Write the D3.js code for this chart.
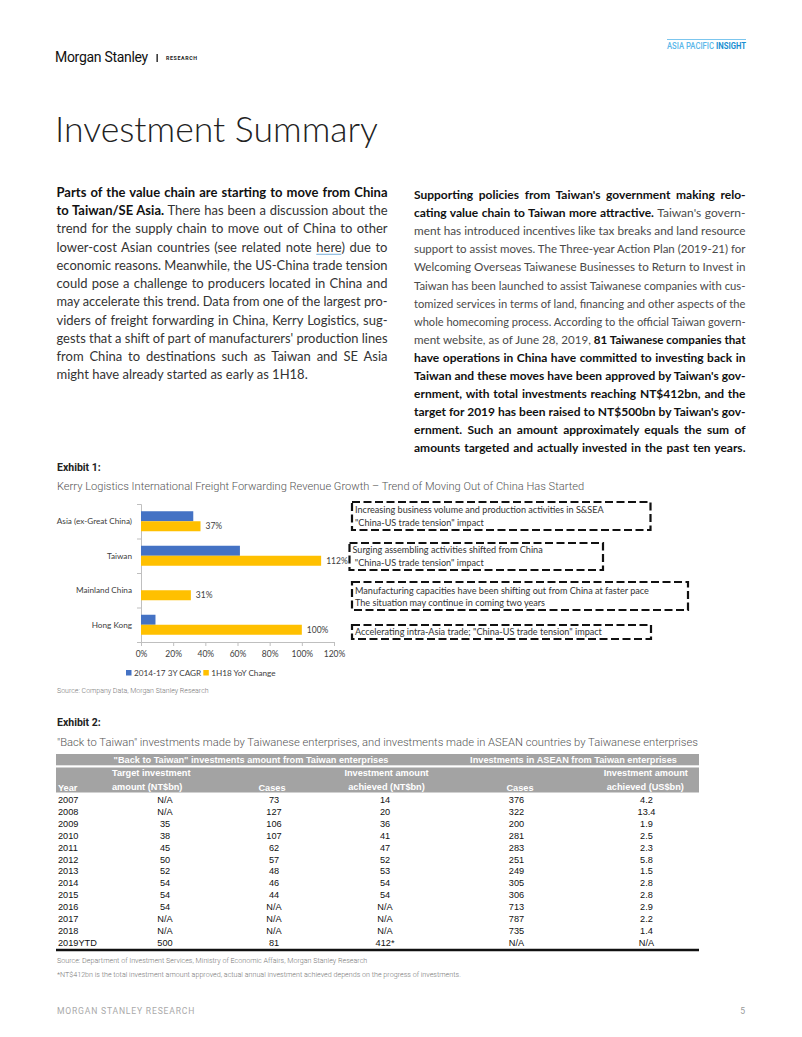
<!DOCTYPE html>
<html><head><meta charset="utf-8">
<script src="https://cdn.jsdelivr.net/npm/d3@7"></script>
<style>
html,body{margin:0;padding:0;background:#fff;}
svg{display:block;}
text{white-space:pre;}
</style></head>
<body>
<script>
// ---------- Exhibit 1 data ----------
const categories = ["Asia (ex-Great China)", "Taiwan", "Mainland China", "Hong Kong"];
const seriesNames = ["2014-17 3Y CAGR", "1H18 YoY Change"];
const cagr = [32.5, 61.5, 0, 9];
const yoy = [37, 112, 31, 100];
const yoyLabels = ["37%", "112%", "31%", "100%"];
const xTicks = [0, 20, 40, 60, 80, 100, 120];
const annotations = [
  ["Increasing business volume and production activities in S&SEA", "\"China-US trade tension\" impact"],
  ["Surging assembling activities shifted from China", " \"China-US trade tension\" impact"],
  ["Manufacturing capacities have been shifting out from China at faster pace", "The situation may continue in coming two years"],
  ["Accelerating intra-Asia trade; \"China-US trade tension\" impact"]
];

// ---------- Exhibit 2 data ----------
const years = ["2007","2008","2009","2010","2011","2012","2013","2014","2015","2016","2017","2018","2019YTD"];
const targetInv = ["N/A","N/A","35","38","45","50","52","54","54","54","N/A","N/A","500"];
const twCases = ["73","127","106","107","62","57","48","46","44","N/A","N/A","N/A","81"];
const twAchieved = ["14","20","36","41","47","52","53","54","54","N/A","N/A","N/A","412*"];
const aseanCases = ["376","322","200","281","283","251","249","305","306","713","787","735","N/A"];
const aseanAchieved = ["4.2","13.4","1.9","2.5","2.3","5.8","1.5","2.8","2.8","2.9","2.2","1.4","N/A"];

// ---------- Body text ----------
const leftLines = [
  [{t:"Parts of the value chain are starting to move from China", b:1}],
  [{t:"to Taiwan/SE Asia.", b:1}, {t:" There has been a discussion about the"}],
  [{t:"trend for the supply chain to move out of China to other"}],
  [{t:"lower-cost Asian countries (see related note "}, {t:"here", link:1}, {t:") due to"}],
  [{t:"economic reasons. Meanwhile, the US-China trade tension"}],
  [{t:"could pose a challenge to producers located in China and"}],
  [{t:"may accelerate this trend. Data from one of the largest pro-"}],
  [{t:"viders of freight forwarding in China, Kerry Logistics, sug-"}],
  [{t:"gests that a shift of part of manufacturers' production lines"}],
  [{t:"from China to destinations such as Taiwan and SE Asia"}],
  [{t:"might have already started as early as 1H18."}]
];
const rightLines = [
  [{t:"Supporting policies from Taiwan's government making relo-", b:1}],
  [{t:"cating value chain to Taiwan more attractive.", b:1}, {t:" Taiwan's govern-"}],
  [{t:"ment has introduced incentives like tax breaks and land resource"}],
  [{t:"support to assist moves. The Three-year Action Plan (2019-21) for"}],
  [{t:"Welcoming Overseas Taiwanese Businesses to Return to Invest in"}],
  [{t:"Taiwan has been launched to assist Taiwanese companies with cus-"}],
  [{t:"tomized services in terms of land, financing and other aspects of the"}],
  [{t:"whole homecoming process. According to the official Taiwan govern-"}],
  [{t:"ment website, as of June 28, 2019, "}, {t:"81 Taiwanese companies that", b:1}],
  [{t:"have operations in China have committed to investing back in", b:1}],
  [{t:"Taiwan and these moves have been approved by Taiwan's gov-", b:1}],
  [{t:"ernment, with total investments reaching NT$412bn, and the", b:1}],
  [{t:"target for 2019 has been raised to NT$500bn by Taiwan's gov-", b:1}],
  [{t:"ernment. Such an amount approximately equals the sum of", b:1}],
  [{t:"amounts targeted and actually invested in the past ten years.", b:1}]
];

const W = 802, H = 1037;
const svg = d3.select("body").append("svg").attr("width", W).attr("height", H);

const BODY = "Lato, 'Noto Sans', sans-serif";
const ROBO = "Roboto, 'Liberation Sans', sans-serif";
const ARIAL = "'Liberation Sans', Arial, sans-serif";

// ---------- Page header ----------
svg.append("text").attr("x", 55).attr("y", 62.3).attr("font-family", ROBO).attr("font-size", 14)
  .attr("letter-spacing", -0.3).attr("fill", "#111").text("Morgan Stanley");
svg.append("rect").attr("x", 156.5).attr("y", 54).attr("width", 1.3).attr("height", 8).attr("fill", "#111");
svg.append("text").attr("x", 166).attr("y", 60).attr("font-family", ROBO).attr("font-size", 5.3)
  .attr("font-weight", 700).attr("letter-spacing", 0.6).attr("fill", "#222").text("RESEARCH");

svg.append("line").attr("x1", 667).attr("x2", 746).attr("y1", 39.5).attr("y2", 39.5)
  .attr("stroke", "#7cc6ee").attr("stroke-width", 1);
const api = svg.append("text").attr("x", 667).attr("y", 48.5).attr("font-family", ROBO).attr("font-size", 8.2)
  .attr("textLength", 79).attr("lengthAdjust", "spacingAndGlyphs");
api.append("tspan").attr("fill", "#5ab7ea").attr("font-weight", 500).text("ASIA PACIFIC ");
api.append("tspan").attr("fill", "#1b8fd2").attr("font-weight", 700).text("INSIGHT");

// Title
svg.append("text").attr("x", 55).attr("y", 141.7).attr("font-family", BODY).attr("font-weight", 300)
  .attr("font-size", 35.6).attr("fill", "#222").text("Investment Summary");

// ---------- Justified text helper ----------
function textLine(parent, x, y, width, segs, size, justify, cols) {
  const t = parent.append("text").attr("x", x).attr("y", y).attr("font-family", BODY).attr("font-size", size);
  segs.forEach(s => t.append("tspan").text(s.t).attr("font-weight", s.b ? 700 : 400)
    .attr("fill", s.b ? cols[1] : cols[0]));
  const full = segs.map(s => s.t).join("");
  if (justify) {
    const n = (full.match(/ /g) || []).length;
    const w = t.node().getComputedTextLength();
    if (w < width && n > 0) t.attr("word-spacing", ((width - w) / n).toFixed(3));
    else if (w > width) t.attr("textLength", width).attr("lengthAdjust", "spacingAndGlyphs");
  }
  let idx = 0;
  segs.forEach(s => {
    if (s.link) {
      const n = t.node();
      const x0 = n.getStartPositionOfChar(idx).x;
      const x1 = n.getEndPositionOfChar(idx + s.t.length - 1).x;
      parent.append("line").attr("x1", x0).attr("x2", x1).attr("y1", y + 2.6).attr("y2", y + 2.6)
        .attr("stroke", "#6aa6d8").attr("stroke-width", 0.9);
    }
    idx += s.t.length;
  });
  return t;
}

const leftG = svg.append("g");
leftLines.forEach((segs, i) => {
  textLine(leftG, 56.5, 197 + i * 18.23, 331, segs, 13, i < leftLines.length - 1, ["#333", "#111"]);
});
const rightG = svg.append("g");
rightLines.forEach((segs, i) => {
  textLine(rightG, 414, 199 + i * 18.1, 331.5, segs, 12, true, ["#4a4a4a", "#111"]);
});

// ---------- Exhibit 1 ----------
svg.append("text").attr("x", 57).attr("y", 471).attr("font-family", ROBO).attr("font-weight", 700)
  .attr("font-size", 10.5).attr("fill", "#222").text("Exhibit 1:");
svg.append("text").attr("x", 57).attr("y", 490).attr("font-family", ROBO).attr("font-weight", 300)
  .attr("font-size", 11.1).attr("fill", "#555")
  .text("Kerry Logistics International Freight Forwarding Revenue Growth \u2013 Trend of Moving Out of China Has Started");

const CH = "Lato, Carlito, Calibri, sans-serif";
const FS = 8.2;
const blue = "#4472C4", yellow = "#FFC000";
const x = d3.scaleLinear().domain([0, 120]).range([141, 334]);
const y = d3.scaleBand().domain(categories).range([504, 642]).paddingInner(0.42).paddingOuter(0.21);
const ys = d3.scaleBand().domain([0, 1]).range([0, y.bandwidth()]);
const chart = svg.append("g");

// axes
const xAxis = chart.append("g").attr("transform", "translate(0,642)")
  .call(d3.axisBottom(x).tickValues(xTicks).tickFormat(d => d + "%").tickSize(4).tickPadding(5));
const yb = d3.scaleLinear().domain([0, categories.length]).range([504, 642]);
const yAxis = chart.append("g").attr("transform", "translate(141,0)")
  .call(d3.axisLeft(yb).tickValues(d3.range(categories.length + 1)).tickFormat("").tickSize(4));
[xAxis, yAxis].forEach(a => {
  a.selectAll("path,line").attr("stroke", "#bfbfbf");
  a.selectAll("text").attr("font-family", CH).attr("font-size", FS + 0.3).attr("fill", "#404040");
});

// bars
const series = [cagr, yoy];
const colors = [blue, yellow];
series.forEach((vals, si) => {
  chart.append("g").selectAll("rect").data(categories).join("rect")
    .attr("x", x(0)).attr("y", c => y(c) + ys(si))
    .attr("width", (c, i) => x(vals[i]) - x(0)).attr("height", ys.bandwidth())
    .attr("fill", colors[si]);
});
// value labels
chart.append("g").selectAll("text").data(categories).join("text")
  .attr("x", (c, i) => x(yoy[i]) + 5).attr("y", c => y(c) + ys(1) + ys.bandwidth() / 2)
  .attr("dy", "0.35em").attr("font-family", CH).attr("font-size", FS + 0.3).attr("fill", "#404040")
  .text((c, i) => yoyLabels[i]);
// category labels
chart.append("g").selectAll("text").data(categories).join("text")
  .attr("x", 132).attr("y", c => y(c) + y.bandwidth() / 2).attr("dy", "0.35em")
  .attr("text-anchor", "end").attr("font-family", CH).attr("font-size", FS).attr("fill", "#404040")
  .text(c => c);
// legend
const legX = [126, 203.3];
seriesNames.forEach((n, i) => {
  chart.append("rect").attr("x", legX[i]).attr("y", 670).attr("width", 5.5).attr("height", 5.5).attr("fill", colors[i]);
  chart.append("text").attr("x", legX[i] + 8).attr("y", 672.8).attr("dy", "0.35em")
    .attr("font-family", CH).attr("font-size", FS).attr("fill", "#404040").text(n);
});

// annotation boxes
const boxes = [
  {x0: 352, x1: 650.5, y0: 502, y1: 530},
  {x0: 349.5, x1: 603, y0: 543, y1: 570},
  {x0: 352, x1: 688, y0: 582, y1: 610},
  {x0: 352, x1: 651, y0: 625, y1: 639}
];
const lineY = [[510, 522.7], [550, 563.3], [590.7, 603.3], [631.5]];
annotations.forEach((lines, i) => {
  const b = boxes[i];
  chart.append("rect").attr("x", b.x0).attr("y", b.y0).attr("width", b.x1 - b.x0).attr("height", b.y1 - b.y0)
    .attr("fill", "none").attr("stroke", "#111").attr("stroke-width", 2.2).attr("stroke-dasharray", "8,3.5");
  lines.forEach((l, j) => {
    chart.append("text").attr("x", b.x0 + 3).attr("y", lineY[i][j]).attr("dy", "0.35em")
      .attr("font-family", CH).attr("font-size", 9.1).attr("fill", "#333").text(l);
  });
});

svg.append("text").attr("x", 57).attr("y", 692.5).attr("font-family", ROBO).attr("font-weight", 300)
  .attr("font-size", 7).attr("fill", "#777").text("Source: Company Data, Morgan Stanley Research");

// ---------- Exhibit 2 ----------
svg.append("text").attr("x", 57).attr("y", 726).attr("font-family", ROBO).attr("font-weight", 700)
  .attr("font-size", 10.5).attr("fill", "#222").text("Exhibit 2:");
svg.append("text").attr("x", 57).attr("y", 746).attr("font-family", ROBO).attr("font-weight", 300)
  .attr("font-size", 11.2).attr("fill", "#555")
  .text("\"Back to Taiwan\" investments made by Taiwanese enterprises, and investments made in ASEAN countries by Taiwanese enterprises");

const tbl = svg.append("g").attr("font-family", ARIAL).attr("font-size", 9.2);
const gray = "#a3a3a3";
tbl.append("rect").attr("x", 56).attr("y", 754).attr("width", 643).attr("height", 11.3).attr("fill", gray);
tbl.append("rect").attr("x", 56).attr("y", 767.5).attr("width", 643).attr("height", 25).attr("fill", gray);
const hdr = (tx, xx, yy, anchor) => tbl.append("text").attr("x", xx).attr("y", yy).attr("text-anchor", anchor || "middle")
  .attr("fill", "#fff").attr("font-weight", 700).text(tx);
hdr("\"Back to Taiwan\" investments amount from Taiwan enterprises", 251, 763);
hdr("Investments in ASEAN from Taiwan enterprises", 573.5, 763);
hdr("Year", 58, 790.5, "start");
hdr("Target investment", 112, 776.3, "start");
hdr("amount (NT$bn)", 112, 790.3, "start");
hdr("Cases", 272, 790.5);
hdr("Investment amount", 386.5, 776.3);
hdr("achieved (NT$bn)", 386.5, 790.3);
hdr("Cases", 520, 790.5);
hdr("Investment amount", 645.8, 776.3);
hdr("achieved (US$bn)", 645.3, 790.3);

const ry = d3.scalePoint().domain(years).range([799.7, 942.5]);
const cols = [
  {vals: years, x: 58, anchor: "start"},
  {vals: targetInv, x: 165, anchor: "middle"},
  {vals: twCases, x: 274, anchor: "middle"},
  {vals: twAchieved, x: 385, anchor: "middle"},
  {vals: aseanCases, x: 516.5, anchor: "middle"},
  {vals: aseanAchieved, x: 646.5, anchor: "middle"}
];
cols.forEach(c => {
  tbl.append("g").selectAll("text").data(years).join("text")
    .attr("x", c.x).attr("y", d => ry(d) + 3.3).attr("text-anchor", c.anchor)
    .attr("fill", "#111").text((d, i) => c.vals[i]);
});
tbl.append("line").attr("x1", 56).attr("x2", 699).attr("y1", 950).attr("y2", 950)
  .attr("stroke", "#111").attr("stroke-width", 2.6);

svg.append("text").attr("x", 57).attr("y", 963).attr("font-family", ROBO).attr("font-weight", 300)
  .attr("font-size", 7.15).attr("fill", "#777")
  .text("Source: Department of Investment Services, Ministry of Economic Affairs, Morgan Stanley Research");
svg.append("text").attr("x", 57).attr("y", 976.5).attr("font-family", ROBO).attr("font-weight", 300)
  .attr("font-size", 7.15).attr("fill", "#777")
  .text("*NT$412bn is the total investment amount approved, actual annual investment achieved depends on the progress of investments.");

// ---------- Footer ----------
svg.append("text").attr("x", 57).attr("y", 1013.5).attr("font-family", ROBO).attr("font-size", 8.6)
  .attr("letter-spacing", 0.8).attr("fill", "#aaa").text("MORGAN STANLEY RESEARCH");
svg.append("text").attr("x", 745).attr("y", 1013.5).attr("text-anchor", "end").attr("font-family", ROBO)
  .attr("font-size", 8.6).attr("fill", "#999").text("5");
</script>
</body></html>
